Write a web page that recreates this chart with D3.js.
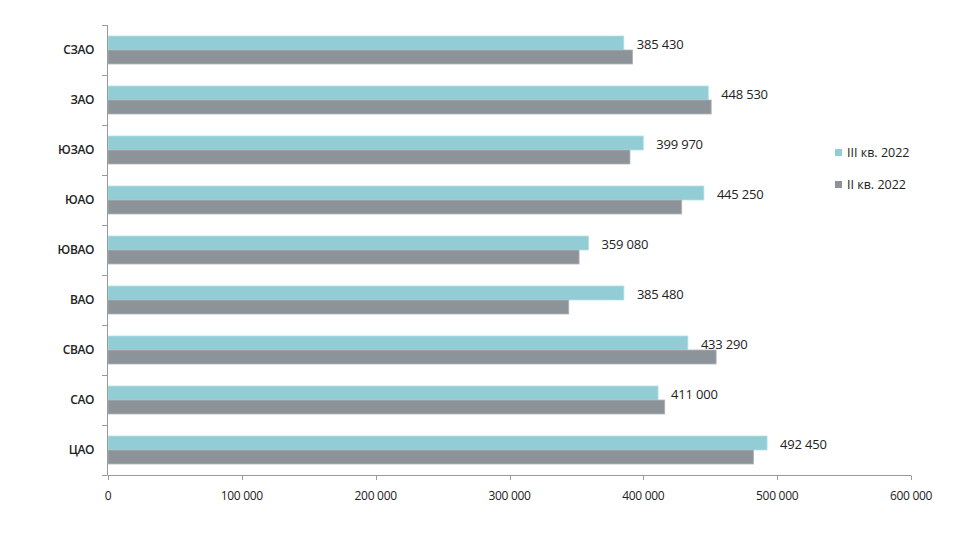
<!DOCTYPE html>
<html><head><meta charset="utf-8">
<script src="https://cdn.jsdelivr.net/npm/d3@7"></script>
<style>body{margin:0;background:#fff;} text{font-family:"Open Sans",sans-serif;fill:#222;}</style>
</head><body><svg id="c" width="971" height="533"></svg>
<script>
const categories = ["СЗАО","ЗАО","ЮЗАО","ЮАО","ЮВАО","ВАО","СВАО","САО","ЦАО"];
const seriesNames = ["III кв. 2022","II кв. 2022"];
const q3 = [385430,448530,399970,445250,359080,385480,433290,411000,492450];
const q2 = [392000,450700,390000,428700,352000,344300,454400,416000,482300];
const xTicks = [0,100000,200000,300000,400000,500000,600000];
const colors = ["#92CDD5","#8C9399"];

const svg = d3.select("#c");
const x = d3.scaleLinear().domain([0,600000]).range([108,911]);
const y = d3.scaleBand().domain(categories).range([25,475]).paddingInner(0.44).paddingOuter(0.22);
const sub = d3.scaleBand().domain([0,1]).range([0,y.bandwidth()]);
const fmt = v => d3.format(",")(v).replace(/,/g," ");

const series = [q3,q2];
series.forEach((vals,si)=>{
  svg.append("g").selectAll("rect").data(categories).join("rect")
    .attr("x",x(0)).attr("y",(d,i)=>y(d)+sub(si))
    .attr("width",(d,i)=>x(vals[i])-x(0)).attr("height",sub.bandwidth())
    .attr("fill",colors[si]).attr("stroke",si===0?"#b5e0e6":"#b0b5ba").attr("stroke-width",0.8);
});
svg.append("g").selectAll("text").data(categories).join("text")
  .attr("x",(d,i)=>x(q3[i])+13).attr("y",(d,i)=>y(d)+sub(0)+sub.bandwidth()/2+1)
  .attr("dy","0.35em").attr("font-size",13).attr("letter-spacing",-0.2).text((d,i)=>fmt(q3[i]));

// y axis
const ya = svg.append("g");
ya.append("line").attr("x1",107.5).attr("x2",107.5).attr("y1",25).attr("y2",475).attr("stroke","#9a9a9a");
const bounds = d3.range(categories.length+1).map(i=>25+i*y.step());
ya.selectAll(".t").data(bounds).join("line").attr("x1",102).attr("x2",107.5)
  .attr("y1",d=>d+0.5).attr("y2",d=>d+0.5).attr("stroke","#9a9a9a");
ya.selectAll("text").data(categories).join("text").attr("x",94).attr("y",d=>y(d)+y.bandwidth()/2)
  .attr("dy","0.35em").attr("text-anchor","end").attr("font-size",12).attr("font-weight",600).attr("letter-spacing",-0.4).text(d=>d);

// x axis
const xa = svg.append("g");
xa.append("line").attr("x1",107.5).attr("x2",911).attr("y1",475.5).attr("y2",475.5).attr("stroke","#9a9a9a");
xa.selectAll("line.t").data(xTicks).join("line").attr("class","t").attr("x1",d=>Math.round(x(d))+0.5).attr("x2",d=>Math.round(x(d))+0.5)
  .attr("y1",475.5).attr("y2",480).attr("stroke","#9a9a9a");
xa.selectAll("text").data(xTicks).join("text").attr("x",d=>x(d)).attr("y",496).attr("dy","0.35em")
  .attr("text-anchor","middle").attr("font-size",12).attr("letter-spacing",-0.3).text(d=>fmt(d));

// legend
const lg = svg.append("g");
seriesNames.forEach((n,i)=>{
  lg.append("rect").attr("x",835).attr("y",149+i*32).attr("width",7).attr("height",7).attr("fill",colors[i]);
  lg.append("text").attr("x",847).attr("y",153+i*32).attr("dy","0.35em").attr("font-size",12.5).text(n);
});
</script></body></html>
